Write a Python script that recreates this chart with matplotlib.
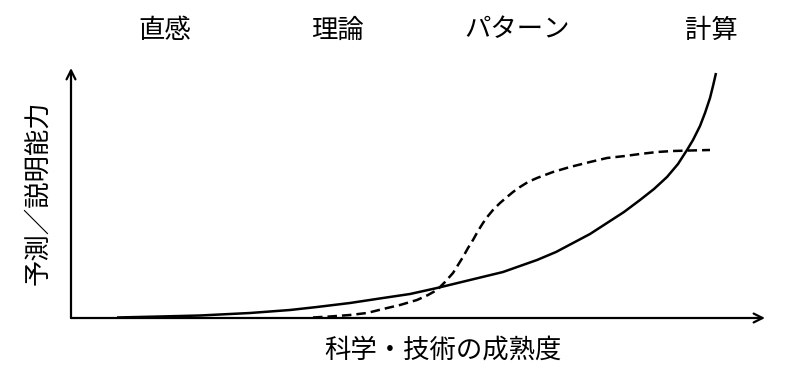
import matplotlib
matplotlib.use("Agg")
import matplotlib.pyplot as plt

plt.rcParams['font.family'] = ['Noto Sans CJK JP', 'DejaVu Sans']

# Stage labels along the top
stage_labels = ["直感", "理論", "パターン", "計算"]
stage_x = [94, 266, 446, 640]  # in data units of x axis

x_label = "科学・技術の成熟度"
y_label = "予測／説明能力"

# Solid curve (computation-driven growth)
solid_x = [46, 89, 129, 179, 219, 246, 279, 312, 339, 366, 399, 432, 466, 485,
           502, 519, 536, 553, 569, 583, 596, 607, 616, 622, 629, 634, 639, 642, 645]
solid_y = [0.5, 1.5, 2.5, 5, 8, 11, 15, 20, 24, 30, 38, 46, 58, 66,
           75, 84, 95, 106, 118, 129, 141, 154, 168, 178, 192, 205, 220, 232, 245]

# Dashed curve (pattern-driven, sigmoid-like)
dash_x = [242, 259, 279, 296, 312, 329, 346, 357, 366, 374, 382, 387, 392, 397,
          402, 407, 412, 417, 422, 429, 436, 442, 449, 457, 466, 482, 499, 519,
          536, 554, 569, 586, 602, 619, 639]
dash_y = [0.5, 1.5, 3, 5, 9, 13, 18, 23, 28, 36, 45, 53, 61, 70,
          78, 87, 95, 102, 108, 115, 121, 126, 131, 136, 140, 146, 151, 156,
          160, 162, 164, 166, 167, 167.5, 168]

W, H = 800, 381
fig = plt.figure(figsize=(8, 3.81), dpi=100)
ax = fig.add_axes([71 / W, 63 / H, 694 / W, 250 / H])
ax.set_xlim(0, 694)
ax.set_ylim(0, 250)
for s in ax.spines.values():
    s.set_visible(False)
ax.set_xticks([])
ax.set_yticks([])

ax.plot(solid_x, solid_y, color='black', lw=1.8, solid_joinstyle='round',
        solid_capstyle='butt')
ax.plot(dash_x, dash_y, color='black', lw=1.8, linestyle=(0, (3.8, 2.0)),
        dash_joinstyle='round')

arrow = dict(arrowstyle='->', color='black', lw=1.6, mutation_scale=16,
             shrinkA=0, shrinkB=0)
ax.annotate('', xy=(1, 0), xytext=(0, 0), xycoords='axes fraction',
            textcoords='axes fraction', arrowprops=arrow, annotation_clip=False)
ax.annotate('', xy=(0, 1), xytext=(0, 0), xycoords='axes fraction',
            textcoords='axes fraction', arrowprops=arrow, annotation_clip=False)

for lab, xv in zip(stage_labels, stage_x):
    xf = (71 + xv) / W
    fig.text(xf, 1 - 30 / H, lab, ha='center', va='center', fontsize=19)

fig.text(443 / W, 1 - 350 / H, x_label, ha='center', va='center', fontsize=19)
fig.text(38 / W, 1 - 193 / H, y_label, ha='center', va='center', fontsize=19,
         rotation=90)

fig.savefig('out.png', dpi=100, facecolor='white')
